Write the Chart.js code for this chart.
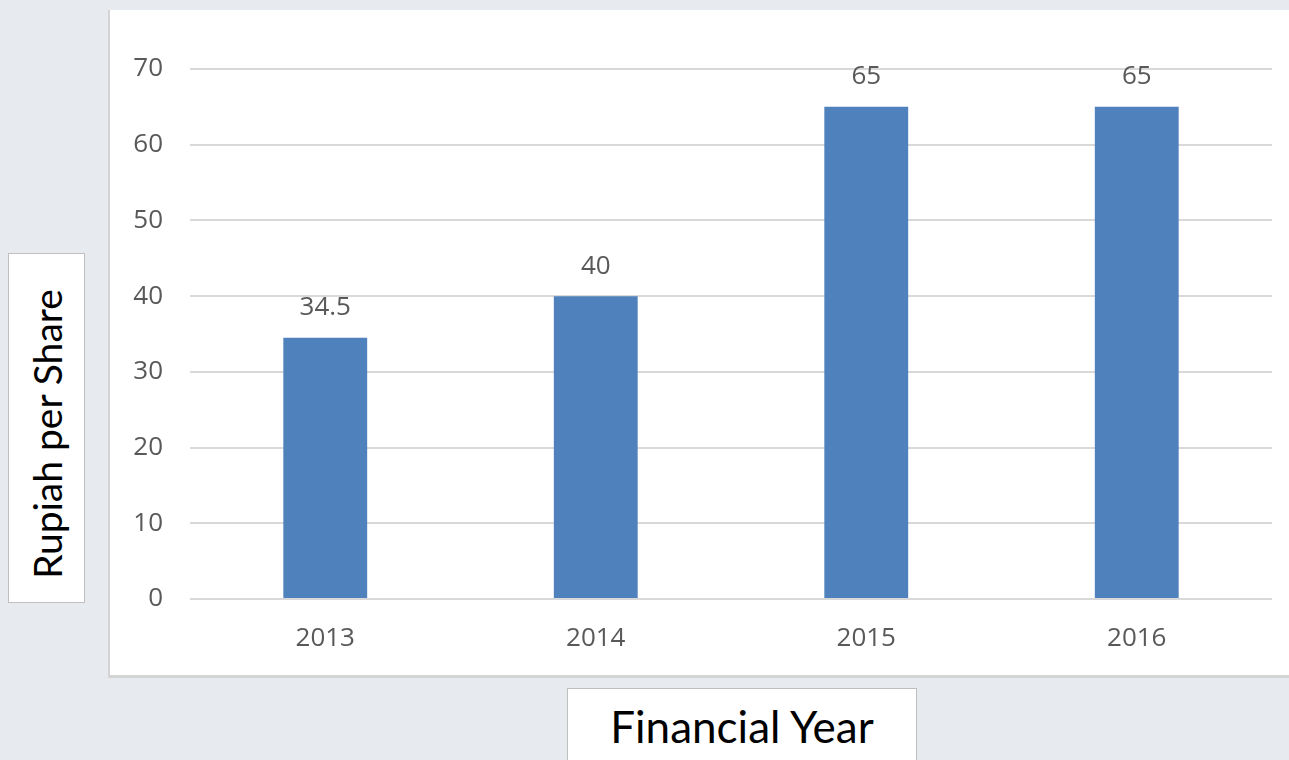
<!DOCTYPE html>
<html>
<head>
<meta charset="utf-8">
<script src="https://cdn.jsdelivr.net/npm/chart.js@4/dist/chart.umd.min.js"></script>
<style>
  html, body { margin: 0; padding: 0; }
  body { width: 1289px; height: 760px; background: #e7eaef; position: relative; overflow: hidden; }
  #panel {
    position: absolute; left: 108px; top: 10px; width: 1190px; height: 665px;
    background: #fff; border-left: 2px solid #d4d4d4; border-bottom: 3px solid #d4d4d4;
  }
  #chart { position: absolute; left: 0; top: 0; }
  .titlebox {
    position: absolute; background: #fff; border: 1.5px solid #bfbfbf; box-sizing: border-box;
    font-family: Lato, "Open Sans", sans-serif; color: #000;
    display: flex; align-items: center; justify-content: center;
  }
  #ytitle { left: 8px; top: 253px; width: 77px; height: 350px; padding-top: 12px; }
  #ytitle span { transform: rotate(-90deg); white-space: nowrap; font-size: 39px; }
  #xtitle { left: 567px; top: 688px; width: 350px; height: 90px; padding-bottom: 14px; font-size: 44px; }
</style>
</head>
<body>
<div id="panel"><canvas id="chart" width="1179" height="665"></canvas></div>
<div class="titlebox" id="ytitle"><span>Rupiah per Share</span></div>
<div class="titlebox" id="xtitle">Financial Year</div>
<script>
/* ── datos ── */
const years = ['2013', '2014', '2015', '2016'];
const dividends = [34.5, 40, 65, 65];
const yTicks = [0, 10, 20, 30, 40, 50, 60, 70];

const tickColor = '#595959';
const tickFont = { family: 'Open Sans', size: 26 };

/* etiquetas encima de cada barra */
const barLabels = {
  id: 'barLabels',
  afterDatasetsDraw(chart) {
    const ctx = chart.ctx;
    const meta = chart.getDatasetMeta(0);
    ctx.save();
    ctx.font = `${tickFont.size}px ${tickFont.family}`;
    ctx.fillStyle = tickColor;
    ctx.textAlign = 'center';
    ctx.textBaseline = 'middle';
    meta.data.forEach((bar, i) => {
      ctx.fillText(String(dividends[i]), bar.x, bar.y - 30);
    });
    ctx.restore();
  }
};

new Chart(document.getElementById('chart'), {
  type: 'bar',
  data: {
    labels: years,
    datasets: [{
      data: dividends,
      backgroundColor: '#4f81bd',
      borderWidth: 0,
      barPercentage: 0.31,
      categoryPercentage: 1,
    }],
  },
  options: {
    responsive: false,
    animation: false,
    events: [],
    layout: { padding: { left: 0, right: 17, top: 59, bottom: 0 } },
    plugins: { legend: { display: false }, tooltip: { enabled: false } },
    scales: {
      x: {
        grid: { display: false, drawTicks: false },
        border: { display: false },
        ticks: { color: tickColor, font: tickFont, padding: 24, maxRotation: 0 },
        afterFit(scale) { scale.height = 76; },
      },
      y: {
        min: 0,
        max: 70,
        afterBuildTicks(scale) { scale.ticks = yTicks.map(v => ({ value: v })); },
        grid: { color: '#d9d9d9', lineWidth: 2, drawTicks: false },
        border: { display: false },
        ticks: { color: tickColor, font: tickFont, padding: 27 },
        afterFit(scale) { scale.width = 80; },
      },
    },
  },
  plugins: [barLabels],
});
</script>
</body>
</html>
